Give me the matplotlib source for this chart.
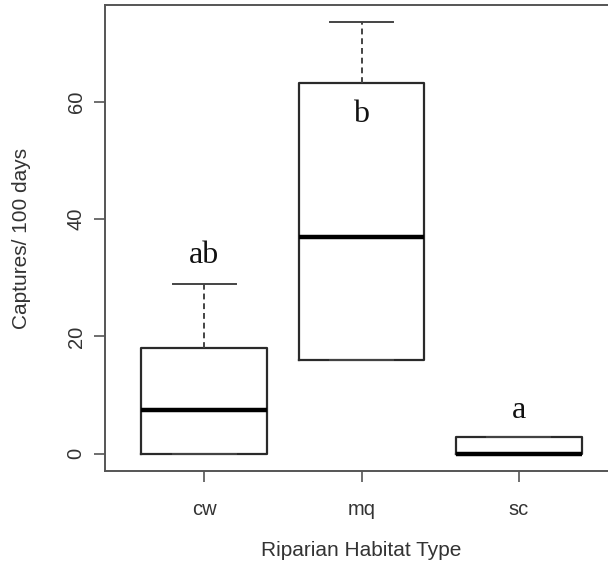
import matplotlib
matplotlib.use('Agg')
import matplotlib.pyplot as plt

# capture rates per riparian habitat type (summary stats of each box)
habitats = ['cw', 'mq', 'sc']
whisker_lo = [0.0, 15.9, 0.0]
q1 = [0.0, 15.9, 0.0]
medians = [7.5, 37.0, 0.0]
q3 = [18.0, 63.2, 2.8]
whisker_hi = [29.0, 73.6, 2.8]

# post-hoc group letters and where they sit
letters = ['ab', 'b', 'a']
letter_y = [33.8, 57.8, 7.4]

stats = []
for i, name in enumerate(habitats):
    stats.append(dict(label=name, whislo=whisker_lo[i], q1=q1[i],
                      med=medians[i], q3=q3[i], whishi=whisker_hi[i],
                      fliers=[]))

fig = plt.figure(figsize=(6.08, 5.74), dpi=100)
# the plot frame runs slightly past the right edge of the figure
ax = fig.add_axes([105 / 608., 103 / 574., 513 / 608., 466 / 574.])

edge = '#2a2a2a'
ax.bxp(stats, positions=[1, 2, 3], widths=0.8, showfliers=False,
       boxprops=dict(color=edge, linewidth=1.6),
       medianprops=dict(color='black', linewidth=3.2, solid_capstyle='butt'),
       whiskerprops=dict(color='#444444', linewidth=1.4, linestyle=(0, (3, 2))),
       capprops=dict(color='#444444', linewidth=1.4),
       capwidths=0.4)

for i, txt in enumerate(letters):
    ax.text(i + 1, letter_y[i], txt, ha='center', va='center',
            fontsize=23, family='Liberation Serif', color='#111111')

ax.set_xlim(1 - 99 / 157., 3 + 99 / 157.)
ax.set_ylim(-2.94, 76.5)
ax.set_yticks([0, 20, 40, 60])
ax.set_xticks([1, 2, 3])
ax.set_xticklabels(habitats)

for sp in ax.spines.values():
    sp.set_color('#555555')
    sp.set_linewidth(1.4)

ax.tick_params(axis='both', direction='out', length=8, width=1.2,
               color='#555555', labelcolor='#333333', labelsize=14.5)
ax.tick_params(axis='y', pad=6)
ax.tick_params(axis='x', pad=13)
for lab in ax.get_yticklabels():
    lab.set_rotation(90)
    lab.set_va('center')

for lab in ax.get_xticklabels() + ax.get_yticklabels():
    lab.set_family('Liberation Sans')

ax.set_xlabel('Riparian Habitat Type', fontsize=15,
              family='Liberation Sans', color='#333333')
ax.set_ylabel('Captures/ 100 days', fontsize=15,
              family='Liberation Sans', color='#333333')
ax.xaxis.set_label_coords(256 / 513., -79 / 466.)
ax.yaxis.set_label_coords(-83 / 513., 0.5)
ax.xaxis.label.set_va('center')
ax.yaxis.label.set_va('center')

fig.savefig('out.png', dpi=100, facecolor='white')
